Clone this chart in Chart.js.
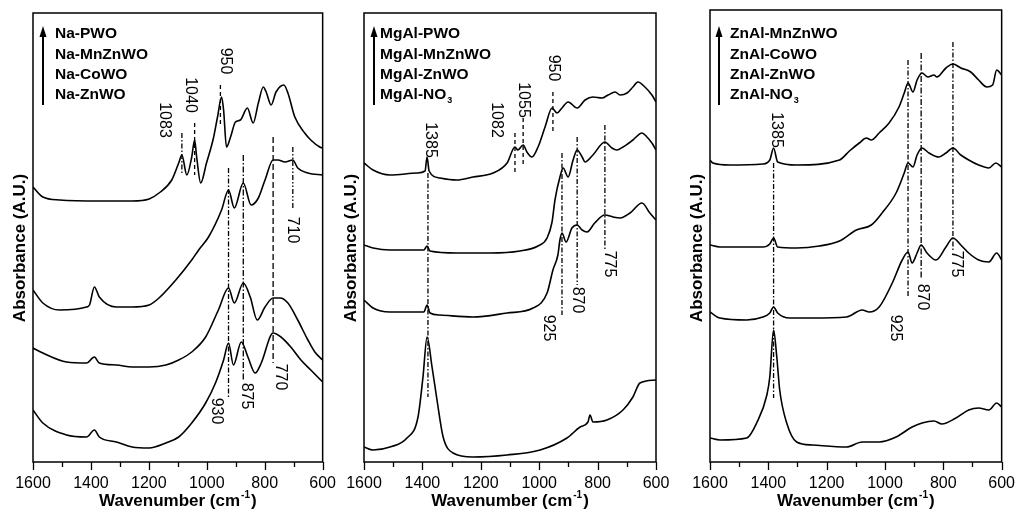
<!DOCTYPE html>
<html>
<head>
<meta charset="utf-8">
<script src="https://cdn.jsdelivr.net/npm/chart.js@4.4.1/dist/chart.umd.min.js"></script>
<style>
  body { margin: 0; background: #fff; }
  #wrap { position: relative; width: 1019px; height: 515px; }
  canvas { position: absolute; top: 0; }
</style>
</head>
<body>
<div id="wrap">
  <canvas id="na" width="340" height="515" style="left:0px"></canvas>
  <canvas id="mgal" width="340" height="515" style="left:340px"></canvas>
  <canvas id="znal" width="339" height="515" style="left:680px"></canvas>
</div>
<script>
// x axis: wavenumber, cm-1 (reversed, 1600 -> 600)
const wavenumberTicks = [1600, 1500, 1400, 1300, 1200, 1100, 1000, 900, 800, 700, 600];
const tickLabels = [1600, 1400, 1200, 1000, 800, 600];

// Panel 1 : Na- samples  ([wavenumber, absorbance a.u.], stacked with offsets as in the figure)
const naNames = ['Na-PWO', 'Na-MnZnWO', 'Na-CoWO', 'Na-ZnWO'];
const naPWO = [[1600,275],[1566,265],[1508,262],[1371,261],[1258,261],[1199,263],[1165,269],[1121,282],[1097,299],[1086,307],[1069,287],[1052,305],[1042,322],[1035,305],[1021,279],[1001,299],[977,324],[963,345],[949,365],[942,352],[932,315],[918,325],[901,340],[884,342],[860,354],[840,339],[822,359],[805,375],[795,370],[778,357],[761,370],[734,377],[720,369],[696,345],[662,329],[641,322],[610,315],[600,314]];
const naMnZnWO = [[1600,172],[1566,159],[1508,152],[1415,155],[1405,157],[1388,175],[1371,165],[1312,155],[1258,155],[1199,157],[1165,164],[1107,182],[1052,202],[1028,212],[994,225],[949,252],[925,272],[905,254],[874,279],[847,257],[822,264],[799,282],[771,302],[754,302],[730,300],[703,302],[686,294],[651,289],[600,287]];
const naCoWO = [[1600,114],[1566,109],[1484,100],[1415,99],[1388,105],[1371,99],[1312,97],[1258,95],[1199,95],[1141,97],[1097,102],[1052,110],[1004,125],[960,152],[925,174],[905,159],[874,179],[850,165],[826,142],[799,155],[771,164],[747,164],[720,159],[686,142],[651,122],[627,110],[600,102]];
const naZnWO = [[1600,52],[1566,39],[1484,27],[1415,25],[1388,32],[1371,25],[1312,20],[1258,15],[1199,14],[1141,19],[1097,25],[1052,39],[1004,59],[970,79],[942,102],[925,119],[908,97],[881,120],[858,105],[833,89],[812,99],[771,129],[744,125],[710,115],[675,102],[641,92],[600,80]];
const naPeaks = ['1083', '1040', '950', '710', '930', '875', '770'];

// Panel 2 : MgAl- samples
const mgalNames = ['MgAl-PWO', 'MgAl-MnZnWO', 'MgAl-ZnWO', 'MgAl-NO3'];
const mgalPWO = [[1600,299],[1569,292],[1511,287],[1418,289],[1391,291],[1384,305],[1377,291],[1340,284],[1282,282],[1227,285],[1158,289],[1110,299],[1083,315],[1073,312],[1055,317],[1042,310],[1025,305],[1004,315],[980,335],[956,354],[939,349],[922,354],[901,360],[870,354],[843,362],[816,365],[785,364],[764,367],[740,370],[723,367],[699,369],[679,375],[662,380],[638,375],[614,367],[600,360]];
const mgalMnZnWO = [[1600,217],[1569,214],[1511,212],[1395,212],[1384,216],[1374,211],[1282,209],[1168,209],[1066,211],[1004,216],[973,224],[956,240],[946,262],[929,285],[918,294],[901,285],[884,302],[870,312],[853,305],[843,300],[816,307],[775,320],[751,314],[734,312],[713,315],[679,322],[648,329],[631,325],[614,319],[600,312]];
const mgalZnWO = [[1600,162],[1569,154],[1511,150],[1418,150],[1395,150],[1384,157],[1374,149],[1340,147],[1227,145],[1110,149],[1021,154],[973,169],[953,192],[936,207],[929,222],[922,229],[908,220],[888,234],[870,237],[853,232],[836,230],[810,239],[775,247],[747,245],[723,244],[689,249],[648,259],[621,249],[600,242]];
const mgalNO3 = [[1600,15],[1569,12],[1511,15],[1453,24],[1415,45],[1398,85],[1384,125],[1367,95],[1350,62],[1329,25],[1295,9],[1227,5],[1110,7],[997,12],[905,24],[860,35],[833,40],[826,47],[816,40],[768,42],[713,52],[679,65],[655,79],[600,82]];
const mgalPeaks = ['1385', '1082', '1055', '950', '925', '870', '775'];

// Panel 3 : ZnAl- samples
const znalNames = ['ZnAl-MnZnWO', 'ZnAl-CoWO', 'ZnAl-ZnWO', 'ZnAl-NO3'];
const znalMnZnWO = [[1600,302],[1590,299],[1532,297],[1419,298],[1395,302],[1382,314],[1368,300],[1303,297],[1156,302],[1122,311],[1088,319],[1064,324],[1047,322],[1020,329],[986,339],[952,355],[934,369],[921,379],[904,370],[890,382],[873,389],[853,385],[832,387],[822,385],[791,394],[767,398],[740,394],[706,390],[679,382],[651,375],[631,377],[617,392],[600,387]];
const znalCoWO = [[1600,217],[1566,215],[1419,215],[1395,218],[1382,224],[1368,215],[1303,214],[1225,216],[1156,221],[1098,232],[1047,237],[1010,249],[962,269],[934,289],[921,299],[904,295],[890,307],[873,314],[849,309],[815,305],[791,309],[767,314],[740,307],[713,302],[679,297],[644,294],[620,299],[600,295]];
const znalZnWO = [[1600,150],[1566,144],[1474,142],[1419,145],[1395,149],[1382,155],[1368,149],[1327,144],[1248,144],[1132,145],[1078,152],[1054,150],[1020,155],[975,179],[941,202],[921,210],[907,199],[890,209],[876,217],[856,209],[825,202],[791,215],[767,224],[740,217],[713,209],[679,202],[644,200],[617,209],[600,202]];
const znalNO3 = [[1600,24],[1566,22],[1474,24],[1440,39],[1405,67],[1395,85],[1382,132],[1371,105],[1361,72],[1337,39],[1303,20],[1248,17],[1132,15],[1078,20],[1020,20],[962,25],[907,35],[873,39],[832,41],[805,38],[757,44],[713,52],[679,54],[644,52],[617,59],[600,55]];
const znalPeaks = ['1385', '925', '870', '775'];

const FONT = '"Liberation Sans", Arial, sans-serif';
const DASH_DOT = [5, 2, 1.5, 2];
const DASHED = [4, 3];

// peak marker lines: at = wavenumber, from/to = absorbance span, label placed at (lx, ly)
const naMarks = [
  {at: 1086, from: 287, to: 329, lx: 1145, ly: 342, dash: DASH_DOT},
  {at: 1042, from: 287, to: 339, lx: 1055, ly: 367, dash: DASHED},
  {at: 953, from: 337, to: 377, lx: 936, ly: 401, dash: DASHED},
  {at: 703, from: 252, to: 315, lx: 703, ly: 232, dash: [5, 2, 1.5, 2, 1.5, 2]},
  {at: 925, from: 65, to: 294, lx: 966, ly: 51, dash: DASH_DOT},
  {at: 874, from: 82, to: 307, lx: 864, ly: 66, dash: [6, 2, 1.5, 2]},
  {at: 771, from: 99, to: 325, lx: 747, ly: 85, dash: [6, 3]}
].map((m, i) => ({...m, label: naPeaks[i]}));

const mgalMarks = [
  {at: 1381, from: 65, to: 289, lx: 1374, ly: 322, dash: DASH_DOT},
  {at: 1083, from: 287, to: 329, lx: 1145, ly: 342, dash: DASHED},
  {at: 1055, from: 295, to: 344, lx: 1055, ly: 362, dash: DASHED},
  {at: 953, from: 330, to: 370, lx: 953, ly: 394, dash: DASHED},
  {at: 922, from: 147, to: 309, lx: 970, ly: 134, dash: DASH_DOT},
  {at: 870, from: 177, to: 325, lx: 870, ly: 162, dash: DASH_DOT},
  {at: 775, from: 212, to: 337, lx: 758, ly: 198, dash: DASH_DOT}
].map((m, i) => ({...m, label: mgalPeaks[i]}));

const znalMarks = [
  {at: 1382, from: 64, to: 299, lx: 1371, ly: 332, dash: DASH_DOT},
  {at: 921, from: 164, to: 402, lx: 965, ly: 134, dash: DASH_DOT},
  {at: 876, from: 184, to: 409, lx: 873, ly: 165, dash: [6, 2, 1.5, 2]},
  {at: 767, from: 212, to: 420, lx: 754, ly: 198, dash: DASH_DOT}
].map((m, i) => ({...m, label: znalPeaks[i]}));

// draws frame, ticks, peak markers, legend and axis titles
const decor = {
  id: 'decor',
  afterDraw(chart, args, o) {
    const {ctx, chartArea: a, scales: {x, y}} = chart;
    ctx.save();
    ctx.strokeStyle = '#000';
    ctx.fillStyle = '#000';

    ctx.lineWidth = 1.5;
    ctx.strokeRect(a.left, a.top, a.width, a.height);
    ctx.lineWidth = 1.3;
    ctx.beginPath();
    for (const v of wavenumberTicks) {
      const px = Math.round(x.getPixelForValue(v)) + 0.5;
      const len = tickLabels.includes(v) ? 8 : 5;
      ctx.moveTo(px, a.bottom);
      ctx.lineTo(px, a.bottom + len);
    }
    ctx.stroke();

    // peak markers
    ctx.lineWidth = 1.3;
    ctx.font = '16px ' + FONT;
    ctx.textAlign = 'center';
    ctx.textBaseline = 'middle';
    for (const m of o.marks) {
      const px = x.getPixelForValue(m.at);
      ctx.setLineDash(m.dash);
      ctx.beginPath();
      ctx.moveTo(px, y.getPixelForValue(m.to));
      ctx.lineTo(px, y.getPixelForValue(m.from));
      ctx.stroke();
      ctx.setLineDash([]);
      ctx.save();
      ctx.translate(x.getPixelForValue(m.lx), y.getPixelForValue(m.ly));
      ctx.rotate(Math.PI / 2);
      ctx.fillText(m.label, 0, 0);
      ctx.restore();
    }

    // legend arrow
    const ax = a.left + o.arrowDx;
    ctx.lineWidth = 2;
    ctx.beginPath();
    ctx.moveTo(ax, 105);
    ctx.lineTo(ax, 34);
    ctx.stroke();
    ctx.beginPath();
    ctx.moveTo(ax, 26);
    ctx.lineTo(ax - 3.5, 37);
    ctx.lineTo(ax + 3.5, 37);
    ctx.closePath();
    ctx.fill();

    // legend names
    ctx.textAlign = 'left';
    ctx.textBaseline = 'alphabetic';
    const rows = [38, 58.5, 79, 99];
    o.names.forEach((name, i) => {
      const tx = a.left + o.textDx;
      const sub = name.match(/^(.*NO)3$/);
      ctx.font = 'bold 15.5px ' + FONT;
      if (sub) {
        ctx.fillText(sub[1], tx, rows[i]);
        const w = ctx.measureText(sub[1]).width;
        ctx.font = 'bold 9px ' + FONT;
        ctx.fillText('3', tx + w + 1, rows[i] + 4);
      } else {
        ctx.fillText(name, tx, rows[i]);
      }
    });

    // y title
    ctx.save();
    ctx.translate(a.left - 8, 248);
    ctx.rotate(-Math.PI / 2);
    ctx.font = 'bold 17px ' + FONT;
    ctx.textAlign = 'center';
    ctx.fillText('Absorbance (A.U.)', 0, 0);
    ctx.restore();

    // x title with superscript
    ctx.font = 'bold 17px ' + FONT;
    const t1 = 'Wavenumber (cm', t3 = ')';
    const w1 = ctx.measureText(t1).width, w3 = ctx.measureText(t3).width;
    ctx.font = 'bold 10px ' + FONT;
    const w2 = ctx.measureText('-1').width;
    let tx = (a.left + a.right) / 2 - (w1 + w2 + w3 + 2) / 2;
    const base = 506;
    ctx.font = 'bold 17px ' + FONT;
    ctx.fillText(t1, tx, base);
    tx += w1 + 1;
    ctx.font = 'bold 10px ' + FONT;
    ctx.fillText('-1', tx, base - 8);
    tx += w2 + 1;
    ctx.font = 'bold 17px ' + FONT;
    ctx.fillText(t3, tx, base);
    ctx.restore();
  }
};

function buildPanel(id, series, panel) {
  return new Chart(document.getElementById(id), {
    type: 'line',
    data: {
      datasets: series.map(s => ({
        data: s.map(([x, y]) => ({x, y})),
        borderColor: '#000',
        borderWidth: 1.6,
        pointRadius: 0,
        fill: false,
        cubicInterpolationMode: 'monotone'
      }))
    },
    options: {
      responsive: false,
      animation: false,
      devicePixelRatio: 1,
      layout: {padding: {left: panel.left, right: panel.right, top: panel.top, bottom: 0}},
      plugins: {
        legend: {display: false},
        tooltip: {enabled: false},
        decor: panel
      },
      scales: {
        x: {
          type: 'linear',
          reverse: true,
          min: 600,
          max: 1600,
          grid: {display: false, drawTicks: true, tickLength: 8},
          border: {display: false},
          ticks: {
            stepSize: 100,
            autoSkip: false,
            maxRotation: 0,
            padding: 4,
            color: '#000',
            font: {family: FONT, size: 16},
            callback: v => tickLabels.includes(v) ? String(v) : ''
          },
          afterFit: s => { s.height = 53; }
        },
        y: {
          display: false,
          min: 0,
          max: 462 - panel.top
        }
      }
    },
    plugins: [decor]
  });
}

buildPanel('na', [naPWO, naMnZnWO, naCoWO, naZnWO],
  {left: 33, right: 15, top: 13, marks: naMarks, names: naNames, arrowDx: 10, textDx: 22});
buildPanel('mgal', [mgalPWO, mgalMnZnWO, mgalZnWO, mgalNO3],
  {left: 24, right: 24, top: 13, marks: mgalMarks, names: mgalNames, arrowDx: 10, textDx: 16});
buildPanel('znal', [znalMnZnWO, znalCoWO, znalZnWO, znalNO3],
  {left: 30, right: 16, top: 10, marks: znalMarks, names: znalNames, arrowDx: 9, textDx: 20});
</script>
</body>
</html>
